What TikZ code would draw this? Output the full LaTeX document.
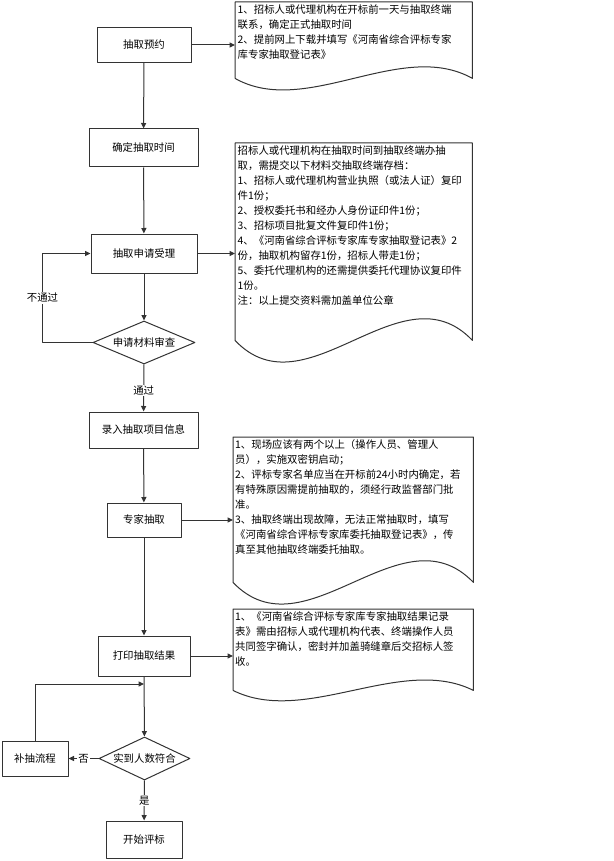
\documentclass[tikz,border=0pt]{standalone}
\usepackage{fontspec}
\setmainfont{Noto Sans CJK SC}
\usetikzlibrary{arrows.meta,shapes.geometric,calc}
\begin{document}
\begin{tikzpicture}[x=1pt,y=-1pt,>={Triangle[length=5.5pt,width=5pt]},line join=round,font=\fontsize{10.4}{15}\selectfont,
	proc/.style={draw=black!80,line width=1pt,inner sep=0pt,minimum width=#1},
	cond/.style={draw=black!80,line width=1pt,diamond,aspect=2.4,inner sep=0pt},
	memo/.style={anchor=north west,inner sep=2.5pt},
	lbl/.style={fill=white,inner sep=1pt},
	flow/.style={draw=black!80,line width=1pt}]
	\useasboundingbox (0,0) rectangle (613,861);
	\node[proc=94pt,minimum height=35pt] (yy) at (144,45) {抽取预约};
	\node[proc=109pt,minimum height=38pt] (sj) at (143.5,148) {确定抽取时间};
	\node[proc=106pt,minimum height=39pt] (sl) at (144,253.5) {抽取申请受理};
	\node[cond,minimum width=102pt,minimum height=43pt] (sc) at (144,342.5) {申请材料审查};
	\node[proc=109pt,minimum height=36pt] (lr) at (143.5,430) {录入抽取项目信息};
	\node[proc=74pt,minimum height=34pt] (zj) at (144,520) {专家抽取};
	\node[proc=92pt,minimum height=40pt] (dy) at (144,656) {打印抽取结果};
	\node[cond,minimum width=91pt,minimum height=43pt] (sd) at (144.5,758.5) {实到人数符合};
	\node[proc=66pt,minimum height=35pt] (bc) at (35,758.5) {补抽流程};
	\node[proc=76pt,minimum height=37pt] (ks) at (144,839.5) {开始评标};
	\node[memo] (d1) at (235,2) {\parbox[t][71pt][t]{232pt}{1、招标人或代理机构在开标前一天与抽取终端\\联系，确定正式抽取时间\\2、提前网上下载并填写《河南省综合评标专家\\库专家抽取登记表》}};
	\node[memo] (d2) at (235,143) {\parbox[t][192pt][t]{232pt}{招标人或代理机构在抽取时间到抽取终端办抽\\取，需提交以下材料交抽取终端存档：\\1、招标人或代理机构营业执照（或法人证）复印\\件1份；\\2、授权委托书和经办人身份证印件1份；\\3、招标项目批复文件复印件1份；\\4、《河南省综合评标专家库专家抽取登记表》2\\份，抽取机构留存1份，招标人带走1份；\\5、委托代理机构的还需提供委托代理协议复印件\\1份。\\注：以上提交资料需加盖单位公章}};
	\node[memo,inner sep=2pt] (d3) at (233,437) {\parbox[t][141pt][t]{236pt}{1、现场应该有两个以上（操作人员、管理人\\员），实施双密钥启动；\\2、评标专家名单应当在开标前24小时内确定，若\\有特殊原因需提前抽取的，须经行政监督部门批\\准。\\3、抽取终端出现故障，无法正常抽取时，填写\\《河南省综合评标专家库委托抽取登记表》，传\\真至其他抽取终端委托抽取。}};
	\node[memo,inner sep=2pt] (d4) at (233,609) {\parbox[t][77pt][t]{236pt}{1、《河南省综合评标专家库专家抽取结果记录\\表》需由招标人或代理机构代表、终端操作人员\\共同签字确认，密封并加盖骑缝章后交招标人签\\收。}};
	\foreach \d/\k in {d1/40,d2/75,d3/75,d4/36}{
		\draw[flow] (\d.south west) |- (\d.north east) -- (\d.south east) .. controls ($(\d.south east)!0.3!(\d.south west)+(0,\k pt)$) and ($(\d.south east)!0.7!(\d.south west)-(0,\k pt)$) .. (\d.south west);
	}
	\coordinate (hb) at (144,684);
	\draw[flow,->] (yy) -- (sj);
	\draw[flow,->] (sj) -- (sl);
	\draw[flow,->] (sl) -- (sc);
	\draw[flow,->] (sc) -- node[lbl,pos=0.55]{通过} (lr);
	\draw[flow,->] (lr) -- (zj);
	\draw[flow,->] (zj) -- (dy);
	\draw[flow,->] (dy) -- (sd);
	\draw[flow,->] (sd) -- node[lbl,pos=0.5]{是} (ks);
	\draw[flow,->] (sd) -- node[lbl,pos=0.5]{否} (bc);
	\draw[flow,->] (bc.north) |- (hb);
	\draw[flow,->] (sc.west) -- ++(-50,0) |- node[lbl,pos=0.25]{不通过} (sl.west);
	\draw[flow,->] (yy) -- (yy -| d1.west);
	\draw[flow,->] (sl) -- (sl -| d2.west);
	\draw[flow,->] (zj) -- (zj -| d3.west);
	\draw[flow,->] (dy) -- (dy -| d4.west);
\end{tikzpicture}
\end{document}
